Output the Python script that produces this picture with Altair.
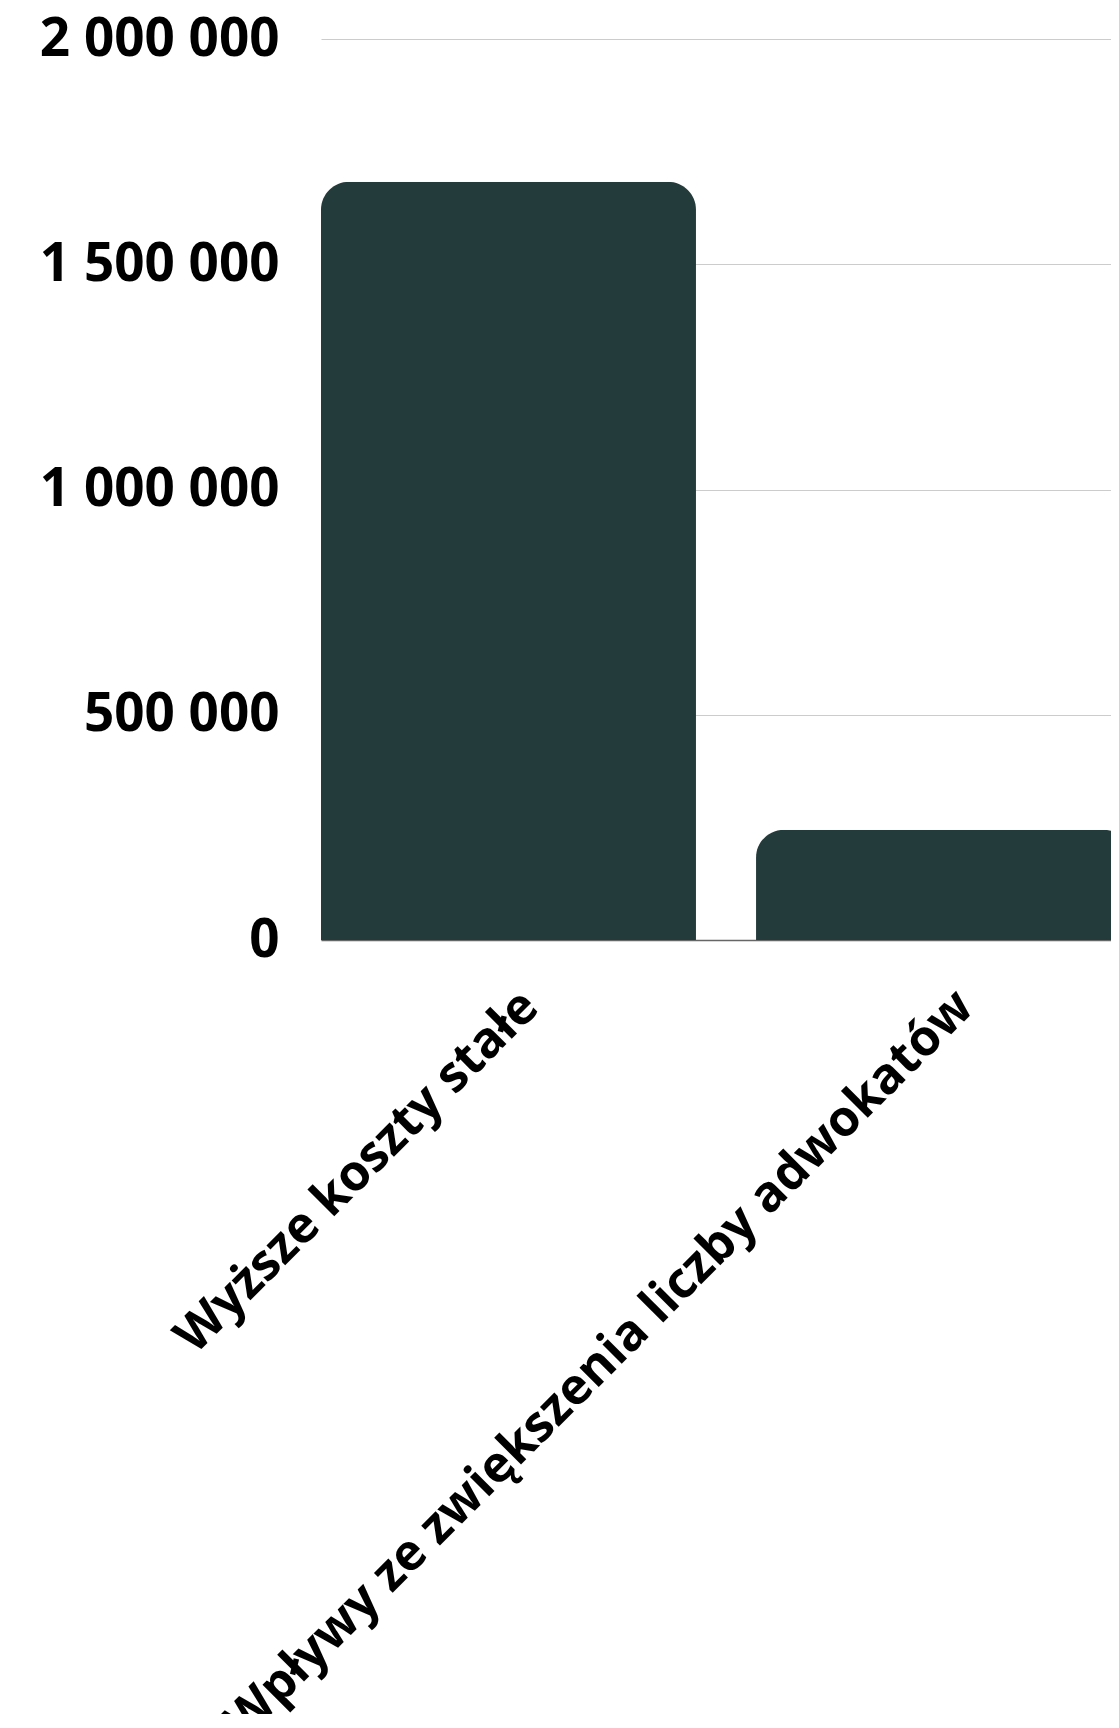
import altair as alt
import pandas as pd

categories = ["Wyższe koszty stałe", "Wpływy ze zwiększenia liczby adwokatów"]
values = [1683000, 245000]
y_ticks = [0, 500000, 1000000, 1500000, 2000000]

df = pd.DataFrame({"kategoria": categories, "wartosc": values})

FONT = "Open Sans"

chart = (
    alt.Chart(df)
    .mark_bar(
        color="#243b3c",
        cornerRadiusTopLeft=28,
        cornerRadiusTopRight=28,
    )
    .encode(
        x=alt.X(
            "kategoria:N",
            sort=categories,
            title=None,
            scale=alt.Scale(paddingInner=0.138, paddingOuter=0),
            axis=alt.Axis(
                labelAngle=-45,
                labelFont=FONT,
                labelFontSize=50,
                labelFontWeight="bold",
                labelColor="#000000",
                labelPadding=41,
                labelOffset=4,
                ticks=False,
                domainColor="#666666",
                domainWidth=1.5,
                labelLimit=2000,
            ),
        ),
        y=alt.Y(
            "wartosc:Q",
            title=None,
            scale=alt.Scale(domain=[0, 2000000]),
            axis=alt.Axis(
                values=y_ticks,
                labelExpr="replace(replace(format(datum.value, ','), ',', ' '), ',', ' ')",
                labelFont=FONT,
                labelFontSize=53,
                labelFontWeight="bold",
                labelColor="#000000",
                labelPadding=42,
                labelLimit=1000,
                ticks=False,
                domain=False,
                gridColor="#cccccc",
                gridWidth=1.2,
            ),
        ),
    )
    .properties(
        width=810,
        height=901,
        autosize=alt.AutoSizeParams(type="none"),
        padding={"left": 313, "top": 31, "right": -20, "bottom": 774},
    )
    .configure_view(stroke=None)
)

chart.save("out.html", embed_options={"renderer": "svg", "actions": False})
